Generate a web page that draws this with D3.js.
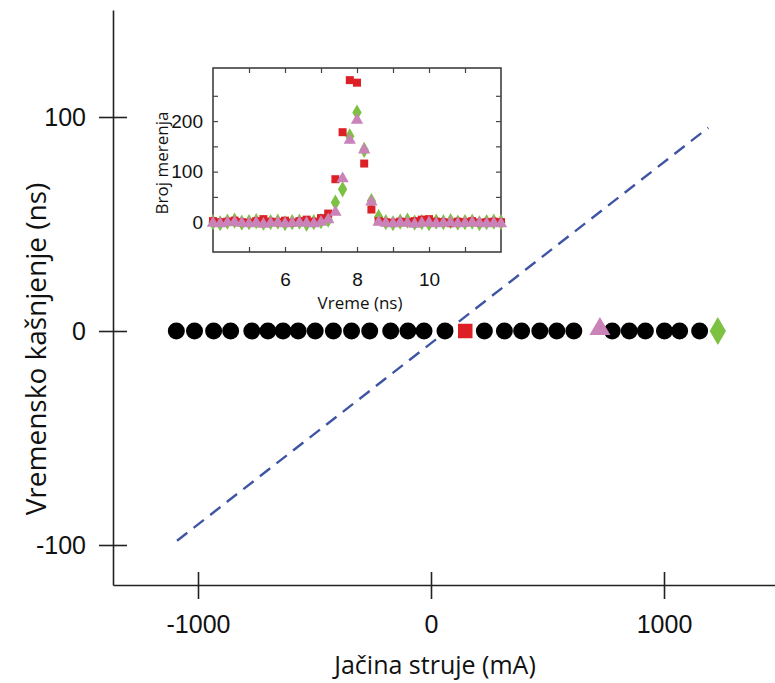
<!DOCTYPE html>
<html>
<head>
<meta charset="utf-8">
<script src="https://cdn.jsdelivr.net/npm/d3@7"></script>
<style>
  body { margin: 0; background: #fff; }
  svg { display: block; font-family: 'Open Sans', 'Noto Sans', sans-serif; }
  .main-axis path, .main-axis line { stroke: #222; stroke-width: 1.6; }
  .main-axis text { font-size: 25px; fill: #111; }
  .inset-axis path { display: none; }
  .inset-axis line { stroke: #444; stroke-width: 1.2; }
  .inset-axis text { font-size: 19px; fill: #111; }
  .title { font-size: 25px; fill: #111; }
  .title.ytitle { font-size: 28px; }
  .inset-title { font-size: 17px; fill: #111; }
</style>
</head>
<body>
<svg id="chart" width="775" height="683"></svg>
<script>
// Glavni grafik: kašnjenje u zavisnosti od struje
const currentBlack = [-1093, -1015, -933, -860, -769, -700, -635, -570, -497, -419, -341, -263,
  -173, -99, -30, 60, 229, 315, 389, 467, 540, 613, 778, 851, 920, 1002, 1067, 1153];
const currentRed = [147];
const currentPink = [725];
const currentGreen = [1231];
const fitCurrent = [-1090, 1190];
const fitDelay = [-98, 95];
const mainXTicks = [-1000, 0, 1000];
const mainYTicks = [-100, 0, 100];

// Umetak: histogram vremena
const insetTime = d3.range(41).map(i => +(4 + i * 0.2).toFixed(1));
const countRed = [2, 0, 1, 3, 0, -1, 2, 6, 1, 0, 3, -1, 2, 5, 1, 8, 17, 85, 178, 281, 276, 116, 25, 2,
  0, -1, 1, 0, 2, 5, 6, 1, 0, -2, 1, 0, 2, -1, 0, 1, 0];
const countGreen = [0, -2, 1, 3, -1, 0, 2, -1, 0, 1, -2, 0, 1, -3, 0, 2, 5, 39, 65, 170, 217, 143, 42, 10,
  0, -2, 1, 3, -1, 0, -2, 1, 0, 2, -1, 0, 1, -2, 0, 1, 0];
const countPink = [-2, -3, -1, 0, -2, -3, -1, -4, -2, -1, -3, -2, -1, -2, -3, 0, 5, 20, 86, 162, 202, 143, 40, 0,
  -2, -3, -1, -2, -4, -2, -1, -3, -2, -1, -3, -2, -1, -2, -3, -2, -3];
const insetXTicks = [5, 6, 7, 8, 9, 10, 11];
const insetXLabels = [6, 8, 10];
const insetYTicks = [0, 50, 100, 150, 200, 250];
const insetYLabels = [0, 100, 200];

const RED = '#dd1f26', GREEN = '#7cc142', PINK = '#c983b9';

const svg = d3.select('#chart');

// ---- main plot ----
const x = d3.scaleLinear().domain([-1000, 1000]).range([198, 664]);
const y = d3.scaleLinear().domain([-100, 100]).range([545, 117]);
const left = 113, bottom = 585;
x.domain([x.invert(left), x.invert(775)]).range([left, 775]);
y.domain([y.invert(bottom), y.invert(10)]).range([bottom, 10]);

svg.append('g')
  .attr('class', 'main-axis')
  .attr('transform', `translate(0,${bottom})`)
  .call(d3.axisBottom(x).tickValues(mainXTicks).tickSizeOuter(0).tickPadding(24).tickFormat(d3.format('d')))
  .call(g => g.selectAll('.tick line').attr('y1', -13).attr('y2', 14));

svg.append('g')
  .attr('class', 'main-axis')
  .attr('transform', `translate(${left},0)`)
  .call(d3.axisLeft(y).tickValues(mainYTicks).tickSizeOuter(0).tickPadding(21).tickFormat(d3.format('d')))
  .call(g => g.selectAll('.tick line').attr('x1', -14).attr('x2', 14));

svg.selectAll('.main-axis text').text(function () { return this.textContent.replace('−', '-'); });

svg.append('text').attr('class', 'title')
  .attr('x', 435).attr('y', 674).attr('text-anchor', 'middle')
  .text('Jačina struje (mA)');
svg.append('text').attr('class', 'title ytitle')
  .attr('transform', 'translate(46,349) rotate(-90)').attr('text-anchor', 'middle')
  .text('Vremensko kašnjenje (ns)');

// isprekidana linija
svg.append('line')
  .attr('x1', x(fitCurrent[0])).attr('y1', y(fitDelay[0]))
  .attr('x2', x(fitCurrent[1])).attr('y2', y(fitDelay[1]))
  .attr('stroke', '#3f55a3').attr('stroke-width', 2.4).attr('stroke-dasharray', '13 8');

const row = svg.append('g');
row.selectAll('circle').data(currentBlack).join('circle')
  .attr('cx', d => x(d)).attr('cy', y(0)).attr('r', 8.5).attr('fill', '#000');
row.selectAll('.sq').data(currentRed).join('path').attr('class', 'sq')
  .attr('d', d3.symbol(d3.symbolSquare, 210))
  .attr('transform', d => `translate(${x(d)},${y(0)})`).attr('fill', RED);
row.selectAll('.tri').data(currentPink).join('path').attr('class', 'tri')
  .attr('d', d3.symbol(d3.symbolTriangle, 190))
  .attr('transform', d => `translate(${x(d)},${y(0) - 2})`).attr('fill', PINK);
row.selectAll('.dia').data(currentGreen).join('path').attr('class', 'dia')
  .attr('d', d3.symbol(d3.symbolDiamond, 230))
  .attr('transform', d => `translate(${x(d)},${y(0)})`).attr('fill', GREEN);

// ---- inset ----
const ix = d3.scaleLinear().domain([4, 12]).range([213, 501]);
const iy = d3.scaleLinear().domain([-59, 305]).range([252, 68]);

const inset = svg.append('g');
inset.append('rect')
  .attr('x', 213).attr('y', 68).attr('width', 288).attr('height', 184)
  .attr('fill', '#fff').attr('stroke', '#333').attr('stroke-width', 1.5);

const fmtX = d => insetXLabels.includes(d) ? d : '';
const fmtY = d => insetYLabels.includes(d) ? d : '';
inset.append('g').attr('class', 'inset-axis').attr('transform', 'translate(0,252)')
  .call(d3.axisBottom(ix).tickValues(insetXTicks).tickSize(-5).tickPadding(21).tickFormat(fmtX));
inset.append('g').attr('class', 'inset-axis').attr('transform', 'translate(0,68)')
  .call(d3.axisTop(ix).tickValues(insetXTicks).tickSize(-5).tickFormat(''));
inset.append('g').attr('class', 'inset-axis').attr('transform', 'translate(213,0)')
  .call(d3.axisLeft(iy).tickValues(insetYTicks).tickSize(-5).tickPadding(10).tickFormat(fmtY));
inset.append('g').attr('class', 'inset-axis').attr('transform', 'translate(501,0)')
  .call(d3.axisRight(iy).tickValues(insetYTicks).tickSize(-5).tickFormat(''));

inset.append('text').attr('class', 'inset-title')
  .attr('x', 360).attr('y', 309).attr('text-anchor', 'middle').text('Vreme (ns)');
inset.append('text').attr('class', 'inset-title')
  .attr('transform', 'translate(168,163) rotate(-90)').attr('text-anchor', 'middle').text('Broj merenja');

function insetSeries(values, shape, size, color) {
  inset.append('g').selectAll('path').data(values).join('path')
    .attr('d', d3.symbol(shape, size))
    .attr('transform', (d, i) => `translate(${ix(insetTime[i])},${iy(d)})`)
    .attr('fill', color);
}
insetSeries(countGreen, d3.symbolDiamond, 75, GREEN);
insetSeries(countRed, d3.symbolSquare, 64, RED);
insetSeries(countPink, d3.symbolTriangle, 66, PINK);
</script>
</body>
</html>
